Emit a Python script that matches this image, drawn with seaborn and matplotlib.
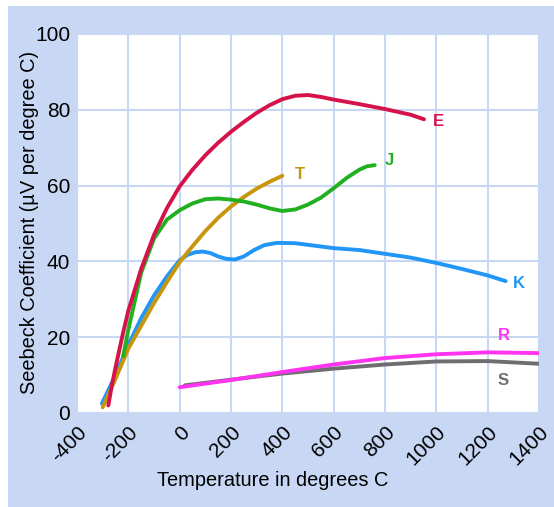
import matplotlib
matplotlib.use("Agg")
import matplotlib.pyplot as plt
import seaborn as sns
import pandas as pd
from matplotlib.patches import Rectangle

# valores (temperatura en °C, coeficiente en µV/°C)
e_temp = [-278, -265, -250, -221, -200, -150, -100, -50, 0, 50, 100, 150, 200, 250, 300, 350,
          400, 450, 500, 550, 600, 700, 800, 900, 952]
e_coef = [2, 7, 12, 21, 27, 38, 47, 54, 59.8, 64.2, 68, 71.3, 74.2, 76.8, 79.2, 81.2,
          82.8, 83.7, 83.9, 83.4, 82.7, 81.5, 80.2, 78.7, 77.5]

j_temp = [-220, -200, -150, -100, -50, 0, 50, 100, 150, 200, 250, 300, 350, 400, 450, 500,
          550, 600, 650, 700, 730, 760]
j_coef = [15, 22, 37, 46, 51, 53.5, 55.3, 56.4, 56.6, 56.3, 55.8, 55, 54, 53.3, 53.7, 55,
          56.8, 59.3, 62, 64.2, 65.1, 65.4]

t_temp = [-300, -250, -200, -150, -100, -50, 0, 50, 100, 150, 200, 250, 300, 350, 400]
t_coef = [1.5, 9, 17, 23, 29, 34.5, 39.8, 44, 48, 51.5, 54.5, 57, 59.2, 61, 62.6]

k_temp = [-303, -250, -200, -150, -100, -50, 0, 30, 60, 90, 120, 150, 180, 215, 250, 290,
          330, 380, 450, 520, 600, 700, 800, 900, 1000, 1100, 1200, 1270]
k_coef = [2.5, 10, 18, 25, 31, 36, 40.3, 41.7, 42.4, 42.6, 42.2, 41.3, 40.7, 40.5, 41.3, 43,
          44.3, 44.9, 44.8, 44.2, 43.5, 43, 42, 41, 39.6, 38, 36.3, 34.8]

r_temp = [0, 200, 400, 600, 800, 1000, 1200, 1400]
r_coef = [6.8, 8.7, 10.8, 12.8, 14.5, 15.5, 16, 15.8]

s_temp = [20, 200, 400, 600, 800, 1000, 1200, 1400]
s_coef = [7.3, 8.8, 10.4, 11.7, 12.8, 13.6, 13.7, 13]

colores = {"E": "#d6124a", "J": "#22b020", "T": "#c8960c", "K": "#2196f7",
           "R": "#ff33f0", "S": "#6e6e6e"}
etiquetas = {"E": (987, 77), "J": (797, 66.5), "T": (450, 62.8),
             "K": (1298, 34.2), "R": (1238, 20.5), "S": (1240, 8.5)}

series = {"E": (e_temp, e_coef), "J": (j_temp, j_coef), "T": (t_temp, t_coef),
          "K": (k_temp, k_coef), "R": (r_temp, r_coef), "S": (s_temp, s_coef)}
filas = []
for nombre, (xs, ys) in series.items():
    for x, y in zip(xs, ys):
        filas.append({"tipo": nombre, "temp": x, "coef": y})
df = pd.DataFrame(filas)

azul = "#c8d8f4"
sns.set_style("white")
plt.rcParams["font.family"] = ["Liberation Sans", "DejaVu Sans"]
plt.rcParams["axes.unicode_minus"] = False
plt.rcParams["text.color"] = "black"
plt.rcParams["xtick.color"] = "black"
plt.rcParams["ytick.color"] = "black"
plt.rcParams["axes.labelcolor"] = "black"

fig = plt.figure(figsize=(5.54, 5.07), dpi=100, facecolor="white")
fig.patches.append(Rectangle((8 / 554, 0), 1, 1 - 6 / 507, transform=fig.transFigure,
                             facecolor=azul, edgecolor="none", zorder=-10))
ax = fig.add_axes([77 / 554, 94 / 507, 462 / 554, 379 / 507])
ax.set_facecolor("white")

orden = ["S", "R", "K", "T", "J", "E"]
for nombre in orden:
    sub = df[df["tipo"] == nombre]
    sns.lineplot(data=sub, x="temp", y="coef", color=colores[nombre], linewidth=2.8,
                 ax=ax, sort=False, solid_capstyle="round", solid_joinstyle="round")
    tx, ty = etiquetas[nombre]
    ax.text(tx, ty, nombre, color=colores[nombre], fontsize=12, fontweight="bold",
            ha="left", va="center")

ax.set_xlim(-400, 1400)
ax.set_ylim(0, 100)
ax.set_xticks(range(-400, 1401, 200))
ax.set_yticks(range(0, 101, 20))
ax.grid(True, color=azul, linewidth=1.5)
ax.set_axisbelow(True)
for s in ax.spines.values():
    s.set_visible(False)
ax.tick_params(length=0, labelsize=15, pad=5)
ax.tick_params(axis="x", pad=7)
for lbl in ax.get_xticklabels():
    lbl.set_rotation(45)
    lbl.set_ha("right")
    lbl.set_rotation_mode("anchor")
ax.set_xlabel("")
ax.set_ylabel("")
fig.text(30 / 554, 1 - 222 / 507, "Seebeck Coefficient (µV per degree C)", fontsize=14.4,
         rotation=90, ha="center", va="center")
fig.text(273 / 554, 1 - 480 / 507, "Temperature in degrees C", fontsize=14.4,
         ha="center", va="center")

fig.savefig("out.png", dpi=100, facecolor="white")
